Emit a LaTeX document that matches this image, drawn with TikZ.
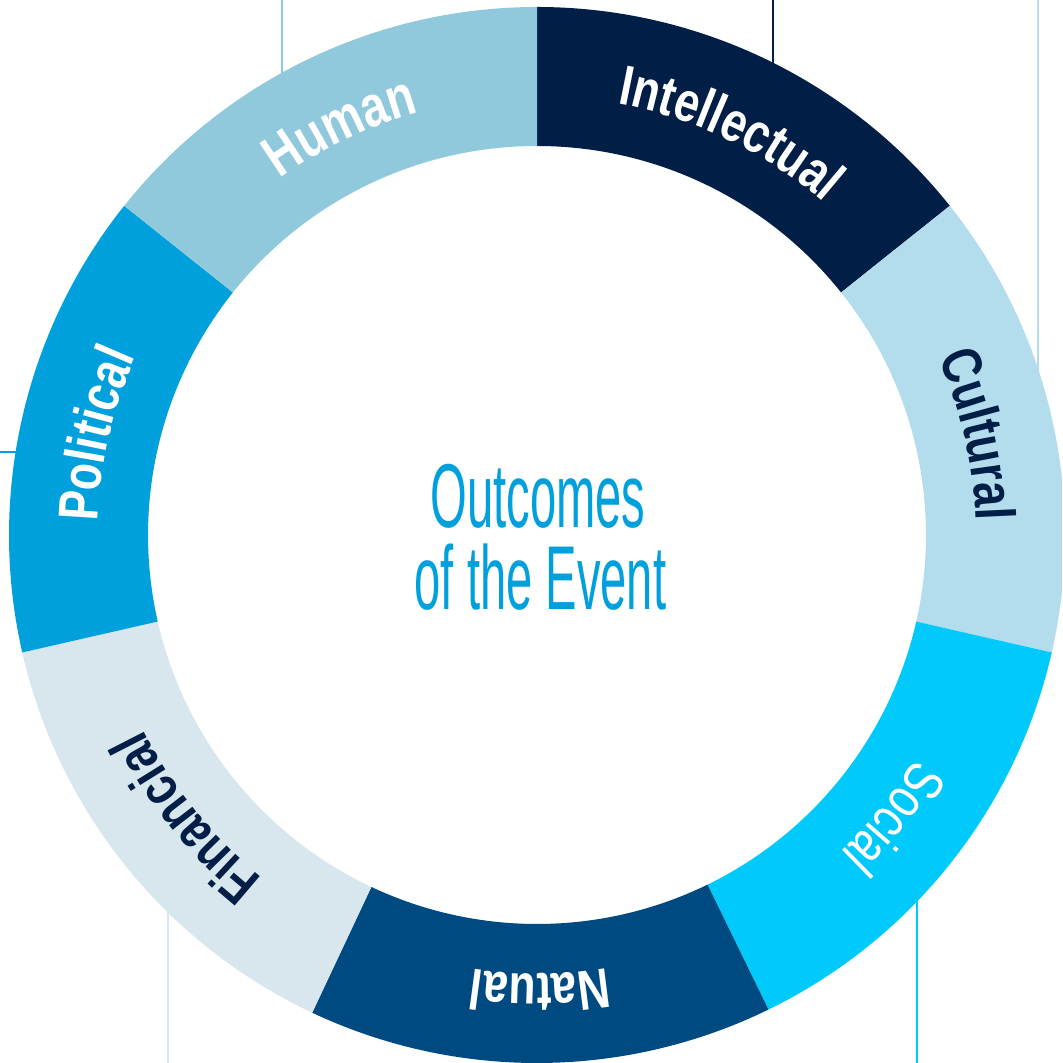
\documentclass[tikz,border=0pt]{standalone}
\usepackage{fontspec}
\usetikzlibrary{decorations.text}
\newfontfamily\lblfam[FakeStretch=0.79]{Liberation Sans}
\newfontfamily\ctrfam[FakeStretch=0.52]{Liberation Sans}
\definecolor{cIntel}{HTML}{001E46}
\definecolor{cCult}{HTML}{B3DDED}
\definecolor{cSoc}{HTML}{00CAFB}
\definecolor{cNat}{HTML}{004A82}
\definecolor{cFin}{HTML}{D8E6ED}
\definecolor{cPol}{HTML}{00A0DC}
\definecolor{cHum}{HTML}{90C8DC}
\definecolor{cTitle}{HTML}{00A0DC}
\begin{document}
\begin{tikzpicture}
\tikzset{
  guide/.style={line width=0.4pt},
  seglabel/.style={decorate, decoration={text along path, text align=center, text color=#1}},
  titletext/.style={font=\ctrfam\fontsize{25.8}{23.3}\selectfont, text=cTitle, inner sep=0pt, anchor=base},
}
\useasboundingbox (-5.37,-5.28) rectangle (5.25,5.35);
\clip (-5.37,-5.28) rectangle (5.25,5.35);
% thin guide lines behind the ring
\draw[guide, cHum] (-2.55,5.35) -- (-2.55,4.3);
\draw[guide, cIntel] (2.36,5.35) -- (2.36,4.3);
\draw[guide, cCult] (5.01,5.35) -- (5.01,1.0);
\draw[guide, cSoc] (3.80,-5.28) -- (3.80,-3.0);
\draw[guide, cFin] (-3.69,-5.28) -- (-3.69,-3.0);
\draw[guide, cPol] (-5.37,0.83) -- (-4.6,0.83);
% ring segments
\def\ro{5.28}
\def\ri{3.89}
\foreach \a/\b/\c in {90/38.5714/cIntel, 38.5714/-12.8571/cCult, -12.8571/-64.0/cSoc, -64.0/-115.2/cNat, -115.2/-167.1429/cFin, 192.8571/141.4286/cPol, 141.4286/90/cHum}{
  \fill[\c] (\a:\ro) arc[start angle=\a, end angle=\b, radius=\ro] -- (\b:\ri) arc[start angle=\b, end angle=\a, radius=\ri] -- cycle;
}
% labels along the ring
\def\rb{4.39}
\path[seglabel=white, decoration={text={|\lblfam\bfseries\fontsize{16}{18}\selectfont|Intellectual}}] (90:\rb) arc[start angle=90, end angle=38.5714, radius=\rb];
\path[seglabel=cIntel, decoration={text={|\lblfam\bfseries\fontsize{16}{18}\selectfont|Cultural}}] (38.5714:\rb) arc[start angle=38.5714, end angle=-12.8571, radius=\rb];
\path[seglabel=white, decoration={text={|\lblfam\fontsize{16}{18}\selectfont|Social}}] (-12.8571:\rb) arc[start angle=-12.8571, end angle=-64.0, radius=\rb];
\path[seglabel=white, decoration={text={|\lblfam\bfseries\fontsize{16}{18}\selectfont|Natual}}] (-64.0:\rb) arc[start angle=-64.0, end angle=-115.2, radius=\rb];
\path[seglabel=cIntel, decoration={text={|\lblfam\bfseries\fontsize{16}{18}\selectfont|Financial}}] (-115.2:\rb) arc[start angle=-115.2, end angle=-167.1429, radius=\rb];
\path[seglabel=white, decoration={text={|\lblfam\bfseries\fontsize{16}{18}\selectfont|Political}}] (192.8571:\rb) arc[start angle=192.8571, end angle=141.4286, radius=\rb];
\path[seglabel=white, decoration={text={|\lblfam\bfseries\fontsize{16.5}{18}\selectfont|Human}}] (141.4286:\rb) arc[start angle=141.4286, end angle=90, radius=\rb];
% centre title
\node[titletext] (title1) at (0.01,0.07) {Outcomes};
\node[titletext] (title2) at (0.035,-0.75) {of the Event};
\end{tikzpicture}
\end{document}
